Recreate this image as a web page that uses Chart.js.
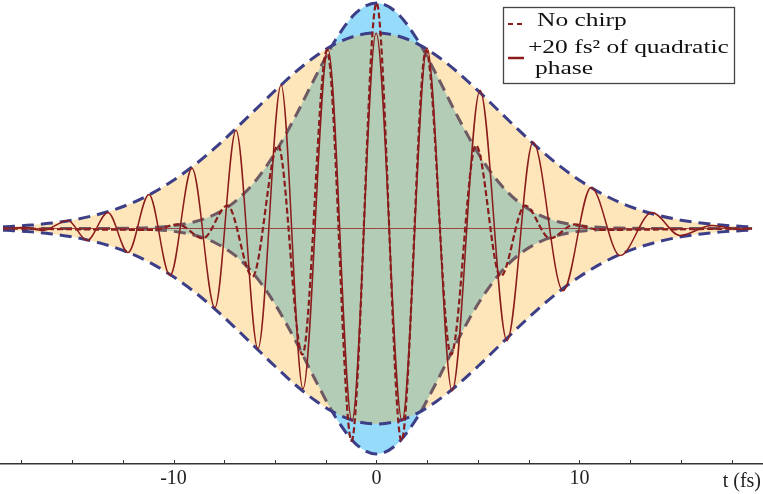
<!DOCTYPE html>
<html>
<head>
<meta charset="utf-8">
<script src="https://cdn.jsdelivr.net/npm/chart.js@4.4.1/dist/chart.umd.min.js"></script>
<style>
  body { margin: 0; background: #fff; }
  #wrap { width: 763px; height: 494px; }
</style>
</head>
<body>
<div id="wrap"><canvas id="pulse" width="763" height="494"></canvas></div>
<script>
// extrema of the chirped field (+20 fs^2), time in fs, field in units of the unchirped peak
const chirpT = [-18.4, -17.36, -16.43, -15.20, -14.26, -13.23, -12.24, -11.21, -10.17, -9.09, -7.96, -6.92,
  -5.84, -4.70, -3.62, -2.39, -1.21, -0.02, 1.26, 2.49, 3.72, 5.10, 6.43, 7.71, 9.19, 10.57, 12.00,
  13.57, 14.95, 16.53, 17.90, 18.5];
const chirpE = [0, 0.004, -0.009, 0.036, -0.053, 0.071, -0.107, 0.151, -0.209, 0.267, -0.351, 0.436,
  -0.533, 0.636, -0.711, 0.796, -0.853, 0.867, -0.853, 0.80, -0.72, 0.613, -0.498, 0.382, -0.276, 0.182, -0.12,
  0.071, -0.031, 0.013, -0.004, 0];

// extrema of the unchirped field
const flatT = [-18.4, -10.99, -9.78, -8.55, -7.34, -6.11, -4.85, -3.65, -2.44, -1.23, 0,
  1.23, 2.44, 3.67, 4.90, 6.11, 7.32, 8.55, 9.75, 10.96, 18.5];
const flatE = [0, -0.006, 0.018, -0.044, 0.102, -0.213, 0.369, -0.560, 0.791, -0.942, 1.0,
  -0.942, 0.791, -0.560, 0.369, -0.213, 0.102, -0.044, 0.018, -0.006, 0];

// envelopes sampled every fs
const envT = [-18.4, -18, -17, -16, -15, -14, -13, -12, -11, -10, -9, -8, -7, -6, -5, -4, -3, -2, -1, 0,
  1, 2, 3, 4, 5, 6, 7, 8, 9, 10, 11, 12, 13, 14, 15, 16, 17, 18, 18.5];
const chirpEnv = [0.0076, 0.0093, 0.015, 0.024, 0.037, 0.056, 0.081, 0.115, 0.159, 0.214, 0.279, 0.354, 0.437,
  0.524, 0.611, 0.693, 0.764, 0.820, 0.855, 0.867,
  0.855, 0.820, 0.764, 0.693, 0.611, 0.524, 0.437, 0.354, 0.279, 0.214, 0.159, 0.115, 0.081, 0.056, 0.037,
  0.024, 0.015, 0.0093, 0.0072];
const flatEnv = [0, 0, 0, 0, 0, 0, 0.0006, 0.0018, 0.005, 0.0126, 0.029, 0.061, 0.117, 0.207, 0.335, 0.496,
  0.674, 0.839, 0.957, 1.0,
  0.957, 0.839, 0.674, 0.496, 0.335, 0.207, 0.117, 0.061, 0.029, 0.0126, 0.005, 0.0018, 0.0006, 0, 0,
  0, 0, 0, 0];

const baseT = [-18.4, 18.5];
const baseE = [0, 0];

const xTicks = [-17.5, -15, -12.5, -10, -7.5, -5, -2.5, 0, 2.5, 5, 7.5, 10, 12.5, 15, 17.5];
const xLabels = [-10, 0, 10];

const pts = (xs, ys) => xs.map((x, i) => ({ x, y: ys[i] }));
const neg = ys => ys.map(v => -v);

const RED = '#8a1c1c';
const NAVY = '#3c3f88';
const SERIF = '"Liberation Serif", "Times New Roman", serif';
const YELLOW = 'rgba(251,164,0,0.27)';
const BLUE = 'rgba(80,195,245,0.6)';

const extras = {
  id: 'extras',
  afterDraw(chart) {
    const { ctx, chartArea, scales } = chart;
    const x = scales.x;
    ctx.save();
    // inward tick marks
    ctx.strokeStyle = '#333';
    ctx.lineWidth = 1;
    xTicks.forEach(v => {
      const px = Math.round(x.getPixelForValue(v)) + 0.5;
      ctx.beginPath();
      ctx.moveTo(px, chartArea.bottom);
      ctx.lineTo(px, chartArea.bottom - 4);
      ctx.stroke();
    });
    // axis name
    ctx.fillStyle = '#222';
    ctx.font = '20px ' + SERIF;
    ctx.textAlign = 'right';
    ctx.textBaseline = 'alphabetic';
    ctx.fillText('t (fs)', 761, 487);

    // legend box
    ctx.fillStyle = '#fff';
    ctx.fillRect(503, 7, 232, 77);
    ctx.strokeStyle = '#444';
    ctx.lineWidth = 1.3;
    ctx.strokeRect(503.5, 7.5, 231, 76);

    ctx.strokeStyle = RED;
    ctx.lineWidth = 2;
    ctx.setLineDash([5, 4]);
    ctx.beginPath(); ctx.moveTo(508, 24); ctx.lineTo(524, 24); ctx.stroke();
    ctx.setLineDash([]);
    ctx.lineWidth = 2.5;
    ctx.beginPath(); ctx.moveTo(508, 58); ctx.lineTo(524, 58); ctx.stroke();

    ctx.fillStyle = '#111';
    ctx.font = '19px ' + SERIF;
    ctx.textAlign = 'left';
    const line = (txt, lx, ly) => {
      ctx.save();
      ctx.translate(lx, ly);
      ctx.scale(1.34, 1);
      ctx.fillText(txt, 0, 0);
      ctx.restore();
    };
    line('No chirp', 537, 26);
    line('+20 fs\u00b2 of quadratic', 528, 53);
    line('phase', 535, 74);
    ctx.restore();
  }
};

new Chart(document.getElementById('pulse'), {
  type: 'line',
  data: {
    datasets: [
      { data: pts(baseT, baseE), borderColor: 'rgba(150,40,40,0.85)', borderWidth: 1 },
      { data: pts(flatT, flatE), borderColor: RED, borderWidth: 2.2, borderDash: [6, 3],
        cubicInterpolationMode: 'monotone' },
      { data: pts(chirpT, chirpE), borderColor: RED, borderWidth: 1.5, cubicInterpolationMode: 'monotone' },
      { data: pts(envT, chirpEnv), borderColor: NAVY, borderWidth: 3, borderDash: [12, 7],
        cubicInterpolationMode: 'monotone', fill: 'origin', backgroundColor: YELLOW },
      { data: pts(envT, neg(chirpEnv)), borderColor: NAVY, borderWidth: 3, borderDash: [12, 7],
        cubicInterpolationMode: 'monotone', fill: 'origin', backgroundColor: YELLOW },
      { data: pts(envT, flatEnv), borderColor: NAVY, borderWidth: 3, borderDash: [12, 7],
        cubicInterpolationMode: 'monotone', fill: 'origin', backgroundColor: BLUE },
      { data: pts(envT, neg(flatEnv)), borderColor: NAVY, borderWidth: 3, borderDash: [12, 7],
        cubicInterpolationMode: 'monotone', fill: 'origin', backgroundColor: BLUE }
    ]
  },
  options: {
    responsive: false,
    animation: false,
    events: [],
    layout: { padding: { left: 0, right: 0, top: 0, bottom: 0 } },
    elements: { point: { radius: 0 } },
    plugins: {
      legend: { display: false },
      tooltip: { enabled: false },
      filler: { drawTime: 'beforeDatasetDraw' }
    },
    scales: {
      x: {
        type: 'linear',
        min: -18.547,
        max: 19.04,
        afterBuildTicks: s => { s.ticks = xTicks.map(v => ({ value: v })); },
        ticks: {
          autoSkip: false,
          maxRotation: 0,
          padding: 5,
          color: '#222',
          font: { family: SERIF, size: 20, lineHeight: 1.0 },
          callback: v => xLabels.includes(v) ? String(v) : ''
        },
        grid: { display: true, drawOnChartArea: false, drawTicks: false },
        border: { display: true, color: '#333', width: 1.5 }
      },
      y: { display: false, min: -1.0444, max: 1.0133 }
    }
  },
  plugins: [extras]
});
</script>
</body>
</html>
